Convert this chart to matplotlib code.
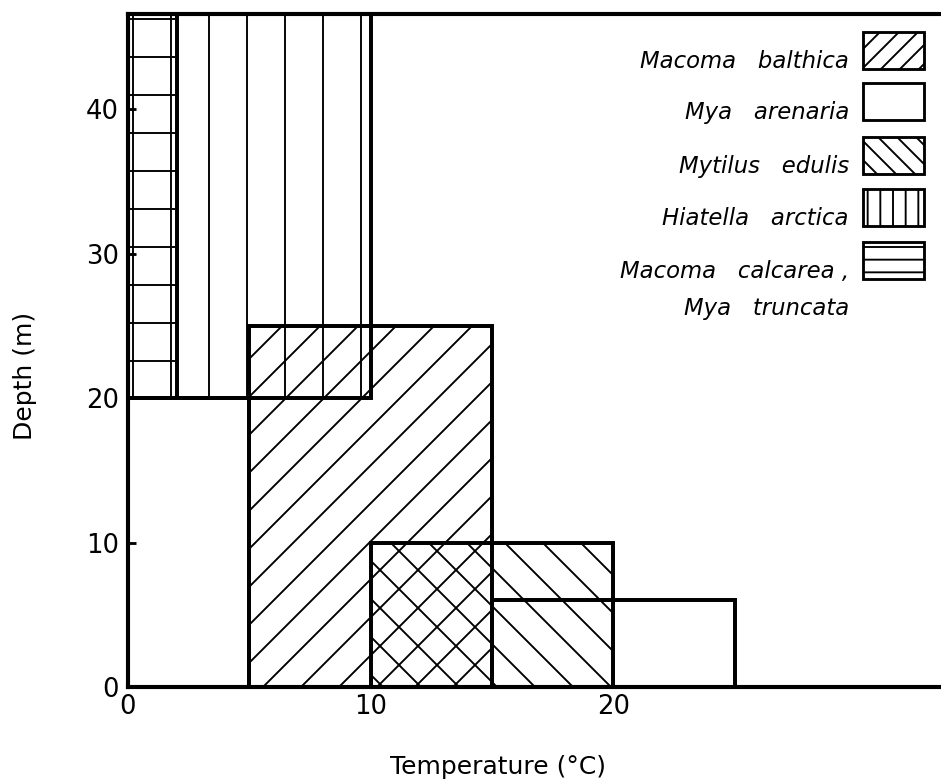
import matplotlib
matplotlib.use("Agg")
import matplotlib.pyplot as plt
from matplotlib.patches import Rectangle

# data: temperature / depth ranges for each species (t_min, t_max, d_min, d_max)
species = ["Macoma balthica", "Mya arenaria", "Mytilus edulis",
           "Hiatella arctica", "Macoma calcarea,\nMya truncata"]
ranges = {
    "Macoma balthica": [(5, 15, 0, 25)],
    "Mya arenaria": [(0, 5, 0, 20), (15, 25, 0, 6)],
    "Mytilus edulis": [(10, 20, 0, 10)],
    "Hiatella arctica": [(0, 10, 20, 50)],
    "Macoma calcarea,\nMya truncata": [(0, 2, 20, 50)],
}
hatches = ["//", "", "\\\\", "|", "-"]
legend_hatches = ["////", "", "\\\\\\\\", "|||", "---"]
xticks = [0, 10, 20]
yticks = [0, 10, 20, 30, 40]

DPI = 228
W, H = 941, 784
plt.rcParams["font.family"] = "DejaVu Sans"
plt.rcParams["hatch.linewidth"] = 0.6
plt.rcParams["hatch.color"] = "black"

fig = plt.figure(figsize=(W / DPI, H / DPI), dpi=DPI)
ax = fig.add_axes([128 / W, 97 / H, 813 / W, 673 / H])

for i, name in enumerate(species):
    for (t0, t1, d0, d1) in ranges[name]:
        ax.add_patch(Rectangle((t0, d0), t1 - t0, d1 - d0, fill=False,
                               edgecolor="black", linewidth=1.25,
                               hatch=hatches[i]))

ax.set_xlim(0, 33.5)
ax.set_ylim(0, 46.6)
ax.set_xticks(xticks)
ax.set_yticks(yticks)
ax.tick_params(direction="in", length=2.5, width=0.9, labelsize=8.2)
ax.tick_params(axis="x", pad=2.2)
ax.tick_params(axis="y", pad=2.8)
for s in ["left", "bottom", "top"]:
    ax.spines[s].set_linewidth(1.3)
ax.spines["right"].set_visible(False)

ax.set_xlabel("Temperature (°C)", fontsize=7.9, ha="left", va="top")
ax.xaxis.set_label_coords((390 - 128) / 812, (687 - 755) / 673)
ax.set_ylabel("Depth (m)", fontsize=7.9)
ax.yaxis.set_label_coords((37 - 128) / 812, (687 - 376) / 673)

# legend drawn by hand: text on the left, hatched box on the right
box_tops = [32, 83, 137, 189, 242]
bw, bh = 61, 37
for i, name in enumerate(species):
    top = box_tops[i]
    fig.patches.append(Rectangle((863 / W, 1 - (top + bh) / H), bw / W, bh / H,
                                 fill=False, edgecolor="black", linewidth=0.9,
                                 hatch=legend_hatches[i],
                                 transform=fig.transFigure, figure=fig))
    for k, line in enumerate(name.split("\n")):
        label = line.replace(" ", "   ").replace(",", " ,")
        fig.text(849 / W, 1 - (top + bh - 1 + 37 * k) / H, label,
                 ha="right", va="baseline", style="italic", fontsize=7.2)

fig.savefig("out.png", dpi=DPI)
